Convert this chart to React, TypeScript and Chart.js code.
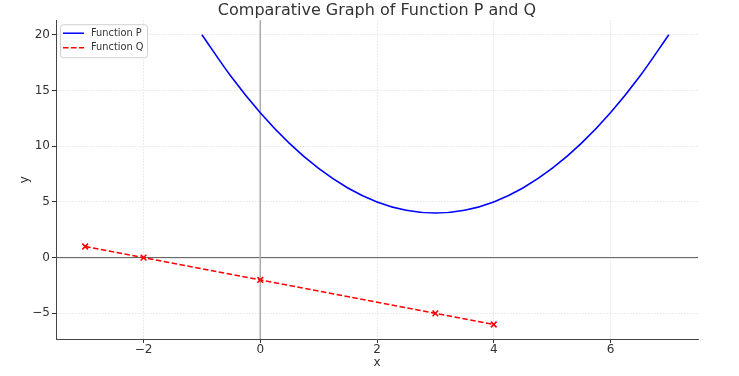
import { useEffect, useRef } from 'react';
import { Chart, registerables } from 'chart.js';

Chart.register(...registerables);

const pX = [-1, -0.5, 0, 0.5, 1, 1.5, 2, 2.5, 3, 3.5, 4, 4.5, 5, 5.5, 6, 6.5, 7];
const pY = [20, 16.25, 13, 10.25, 8, 6.25, 5, 4.25, 4, 4.25, 5, 6.25, 8, 10.25, 13, 16.25, 20];
const qX = [-3, -2, 0, 3, 4];
const qY = [1, 0, -2, -5, -6];
const xTicks = [-2, 0, 2, 4, 6];
const yTicks = [-5, 0, 5, 10, 15, 20];
const seriesLabels = ['Function P', 'Function Q'];
const titleText = 'Comparative Graph of Function P and Q';

const FONT = 'DejaVu Sans';
const fmt = (v: number) => (v < 0 ? '\u2212' + Math.abs(v) : String(v));

const refLines = {
  id: 'refLines',
  beforeDatasetsDraw(chart: any) {
    const { ctx, chartArea: a, scales } = chart;
    const x0 = scales.x.getPixelForValue(0);
    const y0 = scales.y.getPixelForValue(0);
    ctx.save();
    ctx.strokeStyle = '#555';
    ctx.lineWidth = 1;
    ctx.beginPath();
    ctx.moveTo(a.left, y0);
    ctx.lineTo(a.right, y0);
    ctx.stroke();
    ctx.strokeStyle = '#aaa';
    ctx.lineWidth = 1.5;
    ctx.beginPath();
    ctx.moveTo(x0, a.top);
    ctx.lineTo(x0, a.bottom);
    ctx.stroke();
    ctx.restore();
  },
};

const innerLegend = {
  id: 'innerLegend',
  afterDraw(chart: any) {
    const { ctx, chartArea: a } = chart;
    const bx = a.left + 4;
    const by = a.top + 4;
    const bw = 87;
    const bh = 33;
    ctx.save();
    ctx.beginPath();
    ctx.roundRect(bx + 0.5, by + 0.5, bw, bh, 3);
    ctx.fillStyle = 'rgba(255,255,255,0.85)';
    ctx.fill();
    ctx.strokeStyle = '#d0d0d0';
    ctx.lineWidth = 1;
    ctx.stroke();
    chart.data.datasets.forEach((ds: any, i: number) => {
      const ly = by + 9 + i * 14.5;
      ctx.beginPath();
      ctx.strokeStyle = ds.borderColor;
      ctx.lineWidth = 1.5;
      ctx.setLineDash(ds.borderDash || []);
      ctx.moveTo(bx + 3, ly);
      ctx.lineTo(bx + 24, ly);
      ctx.stroke();
      ctx.setLineDash([]);
      ctx.fillStyle = '#333';
      ctx.font = `9.8px "${FONT}"`;
      ctx.textBaseline = 'middle';
      ctx.textAlign = 'left';
      ctx.fillText(ds.label, bx + 31, ly);
    });
    ctx.restore();
  },
};

export default function App() {
  const ref = useRef<HTMLCanvasElement>(null);
  useEffect(() => {
    document.body.style.margin = '0';
    Chart.defaults.font.family = FONT;
    Chart.defaults.color = '#333';
    const chart = new Chart(ref.current!, {
      type: 'line',
      data: {
        datasets: [
          {
            label: seriesLabels[0],
            data: pX.map((x, i) => ({ x, y: pY[i] })),
            borderColor: '#0000ff',
            borderWidth: 1.6,
            pointRadius: 0,
            cubicInterpolationMode: 'monotone',
            fill: false,
          },
          {
            label: seriesLabels[1],
            data: qX.map((x, i) => ({ x, y: qY[i] })),
            borderColor: '#ff0000',
            borderWidth: 1.6,
            borderDash: [5.5, 2.5],
            pointStyle: 'crossRot',
            pointRadius: 4,
            pointBorderWidth: 1.6,
            pointBorderColor: '#ff0000',
            tension: 0,
            fill: false,
          },
        ],
      },
      options: {
        animation: false,
        responsive: true,
        maintainAspectRatio: false,
        layout: { padding: { left: 0, right: 41, top: 1, bottom: 0 } },
        plugins: {
          legend: { display: false },
          tooltip: { enabled: false },
          title: {
            display: true,
            text: titleText,
            fullSize: false,
            color: '#333',
            font: { family: FONT, size: 16, weight: 'normal' },
            padding: { top: 0, bottom: 0 },
          },
        },
        scales: {
          x: {
            type: 'linear',
            min: -3.5,
            max: 7.5,
            afterBuildTicks: (s: any) => {
              s.ticks = xTicks.map((v) => ({ value: v }));
            },
            afterFit: (s: any) => {
              s.height = 37;
            },
            ticks: {
              callback: (v: any) => fmt(Number(v)),
              font: { family: FONT, size: 12 },
              color: '#333',
              padding: 0,
              maxRotation: 0,
            },
            grid: {
              color: 'rgba(0,0,0,0.13)',
              lineWidth: 0.8,
              tickColor: '#333',
              tickLength: 4,
              tickWidth: 1,
            },
            border: { display: true, color: '#444', width: 1, dash: [1.5, 1.5] },
            title: {
              display: true,
              text: 'x',
              color: '#333',
              font: { family: FONT, size: 12 },
              padding: { top: 0, bottom: 6 },
            },
          },
          y: {
            type: 'linear',
            min: -7.3,
            max: 21.3,
            afterBuildTicks: (s: any) => {
              s.ticks = yTicks.map((v) => ({ value: v }));
            },
            afterFit: (s: any) => {
              s.width = 56;
            },
            ticks: {
              callback: (v: any) => fmt(Number(v)),
              font: { family: FONT, size: 12 },
              color: '#333',
              padding: 2,
            },
            grid: {
              color: 'rgba(0,0,0,0.13)',
              lineWidth: 0.8,
              tickColor: '#333',
              tickLength: 4,
              tickWidth: 1,
            },
            border: { display: true, color: '#444', width: 1, dash: [1.5, 1.5] },
            title: {
              display: true,
              text: 'y',
              color: '#333',
              font: { family: FONT, size: 12 },
              padding: { top: 18, bottom: 0 },
            },
          },
        },
      },
      plugins: [refLines, innerLegend],
    });
    return () => chart.destroy();
  }, []);
  return (
    <div style={{ position: 'absolute', left: 0, top: 0, width: 739, height: 376 }}>
      <canvas ref={ref} />
    </div>
  );
}
